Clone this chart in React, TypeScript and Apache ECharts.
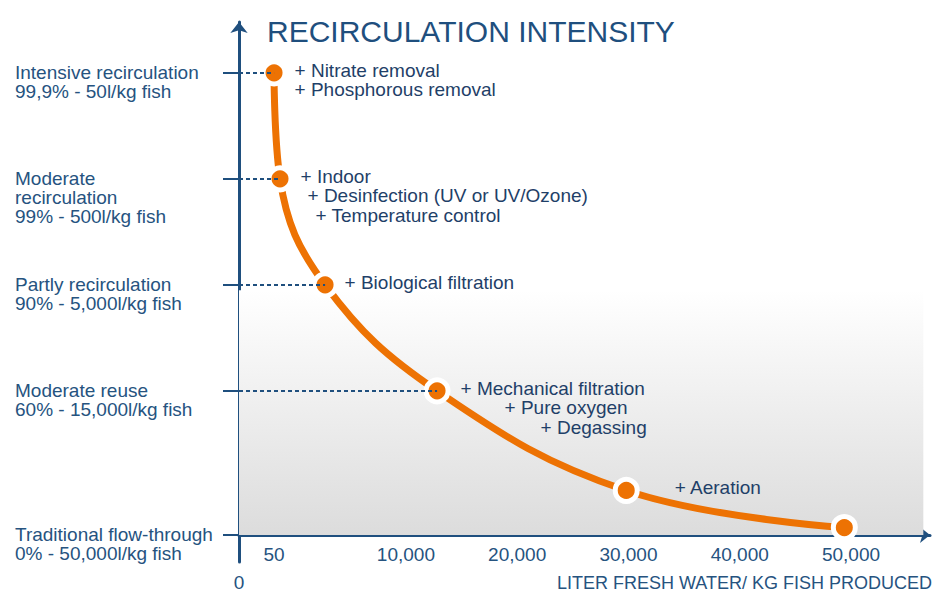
import React, { useEffect, useRef } from 'react';
import * as echarts from 'echarts';

// ---- data ----
const levelLabels = [
  'Traditional flow-through\n0% - 50,000l/kg fish',
  'Moderate reuse\n60% - 15,000l/kg fish',
  'Partly recirculation\n90% - 5,000l/kg fish',
  'Moderate\nrecirculation\n99% - 500l/kg fish',
  'Intensive recirculation\n99,9% - 50l/kg fish',
];
const levelValues = [0, 1.36, 2.36, 3.36, 4.36];

const xTickLiters = [0, 50, 10000, 20000, 30000, 40000, 50000];
const xTickLabels = ['0', '50', '10,000', '20,000', '30,000', '40,000', '50,000'];

// schematic (broken) x scale: liters -> axis units
const scaleLiters = [0, 50, 10000, 60000];
const scaleUnits = [0, 0.315, 1.5, 6.5];

const pointLiters = [50, 500, 3900, 12800, 29800, 49400];
const pointLevels = [4.36, 3.36, 2.36, 1.36, 0.42, 0.07];
const pointNotes = [
  ['+ Nitrate removal', '+ Phosphorous removal'],
  ['+ Indoor', '+ Desinfection (UV or UV/Ozone)', '+ Temperature control'],
  ['+ Biological filtration'],
  ['+ Mechanical filtration', '+ Pure oxygen', '+ Degassing'],
  ['+ Aeration'],
  [],
];
const dashedPoints = [0, 1, 2, 3];

const titleText = 'RECIRCULATION INTENSITY';
const xAxisTitle = 'LITER FRESH WATER/ KG FISH PRODUCED';

// ---- styles ----
const NAVY = '#1f4f7e';
const LABEL_COLOR = '#26537f';
const NOTE_COLOR = '#1f3f68';
const ORANGE = '#ed7203';
const FONT = '"Liberation Sans", Arial, Helvetica, sans-serif';
const noteIndent = [[0, 0], [0, 7, 15], [0], [0, 44, 80], [0], []];
const noteDx = [23, 23, 22, 26, 51, 0];

function toUnits(L: number): number {
  for (let i = 0; i < scaleLiters.length - 1; i++) {
    const a = scaleLiters[i], b = scaleLiters[i + 1];
    if (L <= b || i === scaleLiters.length - 2) {
      return scaleUnits[i] + ((L - a) / (b - a)) * (scaleUnits[i + 1] - scaleUnits[i]);
    }
  }
  return 0;
}

function closestIndex(arr: number[], v: number): number {
  let best = 0;
  for (let i = 1; i < arr.length; i++) if (Math.abs(arr[i] - v) < Math.abs(arr[best] - v)) best = i;
  return best;
}

export default function App() {
  const ref = useRef<HTMLDivElement>(null);
  useEffect(() => {
    if (!ref.current) return;
    const chart = echarts.init(ref.current, null, { renderer: 'svg' });

    const indentSet = Array.from(new Set(noteIndent.flat()));
    const rich: Record<string, any> = {};
    indentSet.forEach((k) => {
      rich['n' + k] = {
        padding: [0, 0, 0, k],
        fontSize: 19,
        lineHeight: 19.5,
        color: NOTE_COLOR,
        fontFamily: FONT,
      };
    });

    const xTickUnits = xTickLiters.map(toUnits);

    const lineData = pointLiters.map((L, i) => {
      const notes = pointNotes[i];
      return {
        value: [toUnits(L), pointLevels[i]],
        label: {
          show: notes.length > 0,
          position: [11 + noteDx[i], 11 - 9.75],
          align: 'left',
          verticalAlign: 'top',
          formatter: () => notes.map((t, j) => `{n${noteIndent[i][j]}|${t}}`).join('\n'),
          rich,
        },
      };
    });

    const option: any = {
      animation: false,
      backgroundColor: '#ffffff',
      title: [
        {
          text: titleText,
          left: 267,
          top: 16,
          padding: 0,
          textStyle: { fontSize: 30, fontWeight: 'normal', color: NAVY, fontFamily: FONT, lineHeight: 30 },
        },
        {
          text: xAxisTitle,
          right: 4,
          top: 574,
          padding: 0,
          textStyle: { fontSize: 18, fontWeight: 'normal', color: LABEL_COLOR, fontFamily: FONT, lineHeight: 18 },
        },
      ],
      grid: {
        left: 239,
        top: 22,
        width: 691,
        height: 540,
        containLabel: false,
        outerBoundsMode: 'none',
      },
      xAxis: {
        type: 'value',
        min: 0,
        max: 6.21,
        splitLine: { show: false },
        axisLine: {
          show: true,
          onZero: true,
          symbol: ['none', 'arrow'],
          symbolSize: [12, 10],
          lineStyle: { color: NAVY, width: 3 },
        },
        axisTick: { show: false },
        axisLabel: {
          customValues: xTickUnits,
          margin: -17,
          fontSize: 19,
          color: LABEL_COLOR,
          fontFamily: FONT,
          formatter: (v: number) => {
            const idx = closestIndex(xTickUnits, v);
            return idx === 0 ? `{z|${xTickLabels[idx]}}` : xTickLabels[idx];
          },
          rich: { z: { padding: [28, 0, 0, 0], fontSize: 19, color: LABEL_COLOR, fontFamily: FONT } },
        },
      },
      yAxis: {
        type: 'value',
        min: -0.255,
        max: 4.84,
        splitLine: { show: false },
        axisLine: {
          show: true,
          onZero: false,
          symbol: ['none', 'arrow'],
          symbolSize: [13, 11],
          lineStyle: { color: NAVY, width: 3 },
        },
        axisTick: {
          show: true,
          customValues: levelValues,
          length: 16,
          lineStyle: { color: NAVY, width: 2 },
        },
        axisLabel: {
          customValues: levelValues,
          align: 'left',
          margin: 224,
          fontSize: 19,
          lineHeight: 19,
          color: LABEL_COLOR,
          fontFamily: FONT,
          formatter: (v: number) => {
            const idx = closestIndex(levelValues, v);
            const lines = levelLabels[idx].split('\n');
            return '\n'.repeat(lines.length - 1) + lines.join('\n');
          },
        },
      },
      series: [
        {
          type: 'line',
          z: 1,
          silent: true,
          data: [],
          markArea: {
            silent: true,
            label: { show: false },
            itemStyle: {
              color: new echarts.graphic.LinearGradient(0, 0, 0, 1, [
                { offset: 0, color: '#ffffff' },
                { offset: 1, color: '#dcdcdc' },
              ]),
              borderWidth: 0,
            },
            data: [[{ coord: [0, 2.31] }, { coord: [6.15, 0] }]],
          },
          markLine: {
            silent: true,
            symbol: ['none', 'none'],
            label: { show: false },
            lineStyle: { color: NAVY, width: 2, type: [4, 3] },
            data: dashedPoints.map((i) => [
              { coord: [0, pointLevels[i]] },
              { coord: [toUnits(pointLiters[i]), pointLevels[i]] },
            ]),
          },
        },
        {
          type: 'line',
          z: 3,
          smooth: 0.4,
          data: lineData,
          symbol: 'circle',
          symbolSize: 22,
          showSymbol: true,
          lineStyle: { color: ORANGE, width: 7 },
          itemStyle: { color: ORANGE, borderColor: '#ffffff', borderWidth: 5 },
          emphasis: { disabled: true },
        },
      ],
    };

    chart.setOption(option);
    return () => chart.dispose();
  }, []);

  return (
    <div
      ref={ref}
      style={{ position: 'fixed', left: 0, top: 0, width: 936, height: 592, background: '#fff' }}
    />
  );
}
